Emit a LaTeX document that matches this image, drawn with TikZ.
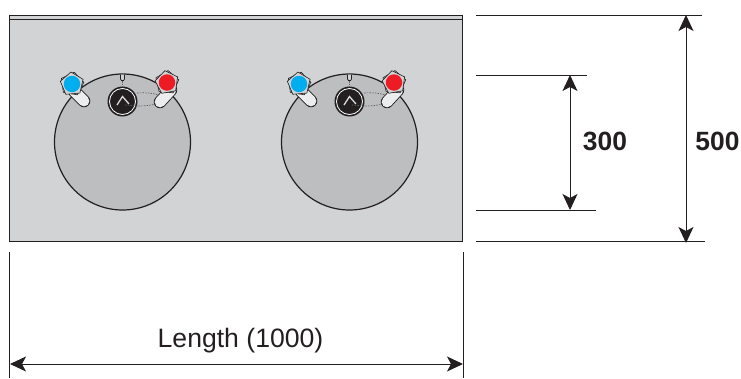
\documentclass[tikz,border=0pt]{standalone}
\usepackage{fontspec}
\setmainfont{Liberation Sans}
\usetikzlibrary{arrows.meta,shapes.geometric}
\definecolor{panel}{RGB}{209,211,212}
\definecolor{bowl}{RGB}{188,190,192}
\definecolor{ink}{RGB}{35,31,32}
\definecolor{hotc}{RGB}{237,28,36}
\definecolor{coldc}{RGB}{0,174,239}
\definecolor{pill}{RGB}{236,237,238}
\tikzset{
  dim/.style={draw=ink,line width=1pt},
  dimarrow/.style={draw=ink,line width=1pt,{Stealth[length=16pt,width=15pt,inset=4pt]}-{Stealth[length=16pt,width=15pt,inset=4pt]}},
  lab/.style={text=ink,inner sep=0pt,font=\fontsize{26.6}{30}\selectfont},
  blab/.style={text=ink,inner sep=0pt,font=\bfseries\fontsize{26.4}{30}\selectfont},
  edge/.style={draw=ink,line width=1.3pt},
  valve/.style={draw=ink,line width=.6pt,fill=panel,regular polygon,regular polygon sides=5,minimum size=24pt,inner sep=0pt},
  dots/.style={draw=ink!70,line width=.7pt,dash pattern=on 1.5pt off 1.2pt},
}
\newcommand{\tapset}[2]{%
  \begin{scope}[shift={(#1,0)}]
    \node[draw=ink,line width=1.2pt,fill=bowl,circle,minimum size=136pt,inner sep=0pt] (bowl#2) at (122.5,142) {};
    \draw[ink,line width=.7pt,fill=panel] (120.5,74.5) -- (120.5,79) -- (121.5,80.5) -- (123.5,80.5) -- (124.5,79) -- (124.5,74.5);
    \draw[line width=12.5pt,ink,line cap=round] (74,91) -- (84,101);
    \draw[line width=10.8pt,pill,line cap=round] (74,91) -- (84,101);
    \draw[line width=12.5pt,ink,line cap=round] (171,90) -- (160,102);
    \draw[line width=10.8pt,pill,line cap=round] (171,90) -- (160,102);
    \node[valve,rotate=-10] (cp#2) at (72,84) {};
    \node[valve,rotate=5] (cq#2) at (72,84) {};
    \node[valve,rotate=-5] (hp#2) at (167,82.5) {};
    \node[valve,rotate=10] (hq#2) at (167,82.5) {};
    \node[circle,fill=coldc,minimum size=16.5pt,inner sep=0pt] (cold#2) at (72,84) {};
    \node[circle,fill=hotc,minimum size=16.5pt,inner sep=0pt] (hot#2) at (167,82.5) {};
    \node[circle,fill=ink,minimum size=30pt,inner sep=0pt] (knob#2) at (122.5,101.5) {};
    \draw[white,line width=.8pt] (knob#2) circle (13pt);
    \draw[white!85!black,line width=1.3pt] (117,105) -- (122.5,96.5) -- (129,104);
    \draw[dots] (122.5,81) -- (122.5,87);
    \draw[dots] (137,93) .. controls (146,92.5) and (152,93) .. (159,95);
    \draw[dots] (125,105) -- (137,106) .. controls (146,106) and (152,105) .. (156,104);
  \end{scope}}
\begin{document}
\begin{tikzpicture}[x=1pt,y=-1pt]
\useasboundingbox (0,0) rectangle (741,378);
\node[draw=ink,line width=1.3pt,fill=panel,minimum width=453pt,minimum height=226pt,inner sep=0pt,anchor=north west] (panel) at (9,15) {};
\coordinate (stripL) at (9,19.5);
\coordinate (stripR) at (462,19.5);
\draw[edge] (stripL) -- (stripR);
\tapset{0}{a}
\tapset{227}{b}
\coordinate (t1) at (476,15); \coordinate (t2) at (702,15);
\coordinate (b1) at (476,241); \coordinate (b2) at (705,241);
\coordinate (u1) at (476,75); \coordinate (u2) at (587,75);
\coordinate (d1) at (476,210); \coordinate (d2) at (596,210);
\draw[dim] (t1) -- (t2);
\draw[dim] (b1) -- (b2);
\draw[dim] (u1) -- (u2);
\draw[dim] (d1) -- (d2);
\coordinate (A5t) at (686,15); \coordinate (A5b) at (686,243);
\coordinate (A3t) at (570,75); \coordinate (A3b) at (570,210);
\draw[dimarrow] (A5t) -- (A5b);
\draw[dimarrow] (A3t) -- (A3b);
\coordinate (l1) at (9.5,252); \coordinate (l2) at (9.5,378);
\coordinate (r1) at (463.5,252); \coordinate (r2) at (463.5,378);
\draw[dim] (l1) -- (l2);
\draw[dim] (r1) -- (r2);
\coordinate (Ll) at (10,364); \coordinate (Lr) at (463,364);
\draw[dimarrow] (Ll) -- (Lr);
\node[lab] (len) at (240.5,341) {Length (1000)};
\node[blab] (n300) at (605,141.5) {300};
\node[blab] (n500) at (717.5,141.5) {500};
\end{tikzpicture}
\end{document}
